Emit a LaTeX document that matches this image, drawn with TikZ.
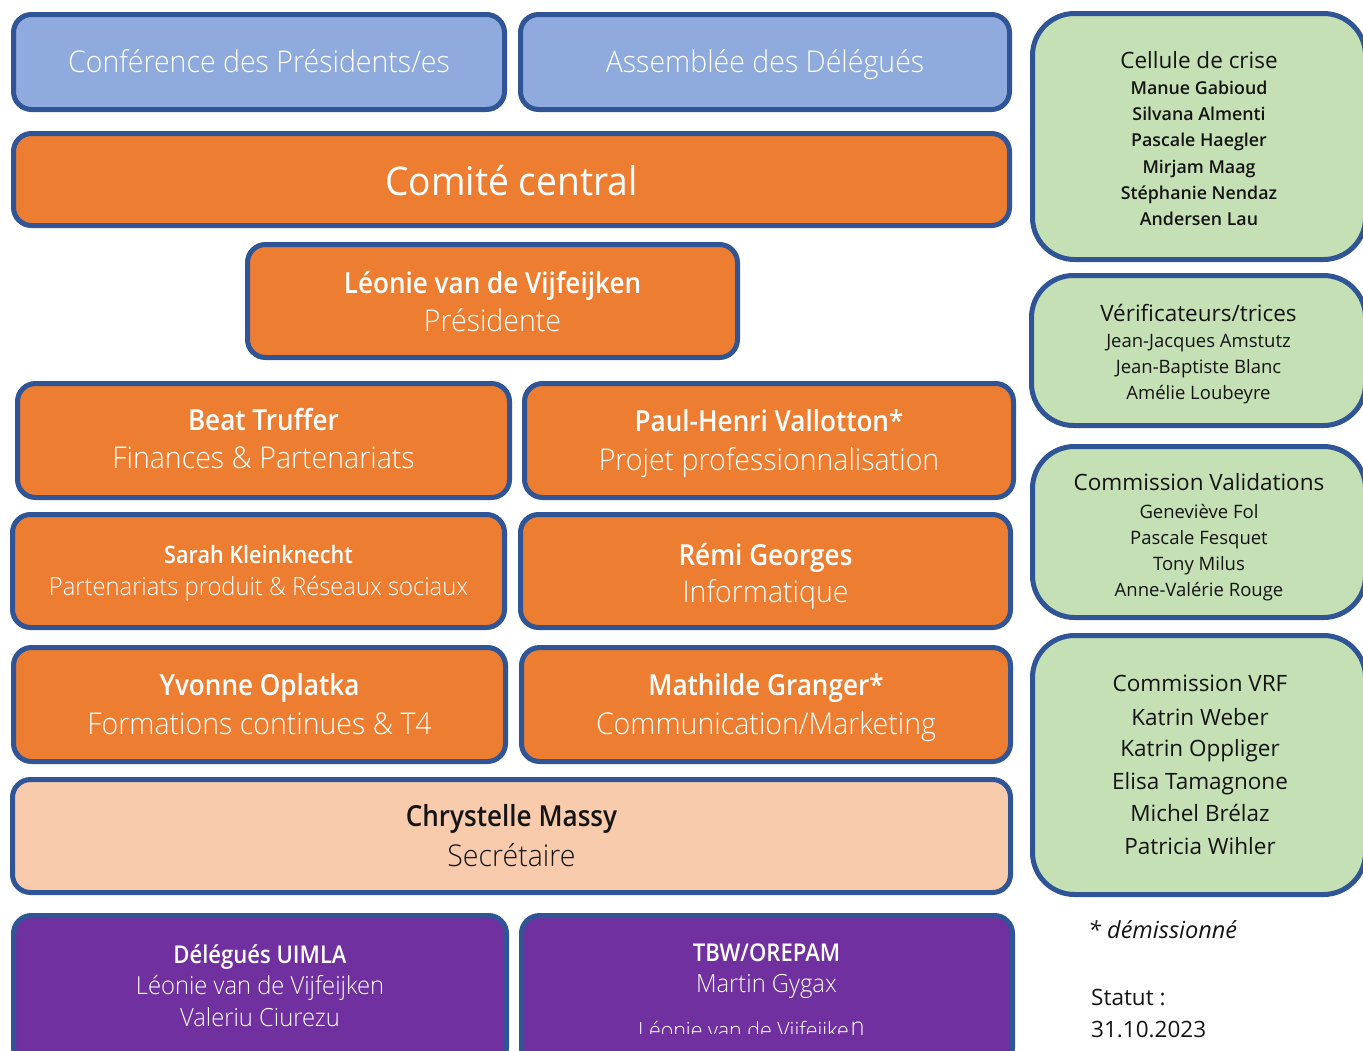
\documentclass[tikz,border=0pt]{standalone}
\usepackage{fontspec}
\IfFontExistsTF{Open Sans Light}
  {\newfontfamily\ltfont{Open Sans Light}[FakeStretch=0.95]}
  {\newfontfamily\ltfont{Open Sans}[FakeStretch=0.95]}
\IfFontExistsTF{Open Sans SemiBold}
  {\newfontfamily\sbfont{Open Sans SemiBold}[FakeStretch=0.9]\newfontfamily\sbwfont{Open Sans SemiBold}}
  {\IfFontExistsTF{Open Sans Semibold}
    {\newfontfamily\sbfont{Open Sans Semibold}[FakeStretch=0.9]\newfontfamily\sbwfont{Open Sans Semibold}}
    {\newfontfamily\sbfont{Open Sans}[FakeStretch=0.9,FakeBold=1]\newfontfamily\sbwfont{Open Sans}[FakeBold=1]}}
\newfontfamily\rgsfont{Open Sans}[FakeStretch=0.94]
\newfontfamily\rgfont{Open Sans}
\newcommand\fLT[1]{\ltfont\fontsize{#1}{#1}\selectfont}
\newcommand\fSB[1]{\sbfont\fontsize{#1}{#1}\selectfont}
\newcommand\fSBW[1]{\sbwfont\fontsize{#1}{#1}\selectfont}
\newcommand\fRGS[1]{\rgsfont\fontsize{#1}{#1}\selectfont}
\newcommand\fRG[1]{\rgfont\fontsize{#1}{#1}\selectfont}
\definecolor{bord}{HTML}{2F5597}
\definecolor{blueF}{HTML}{8FAADC}
\definecolor{orangeF}{HTML}{ED7D31}
\definecolor{peachF}{HTML}{F8CBAD}
\definecolor{purpleF}{HTML}{7030A0}
\definecolor{greenF}{HTML}{C5E0B4}
\definecolor{txtK}{HTML}{141414}
\begin{document}
\begin{tikzpicture}[x=1pt,y=-1pt,
  box/.style={draw=bord, line width=5pt, rounded corners=18pt, inner sep=0pt},
  gbox/.style={draw=bord, line width=5pt, rounded corners=42pt, inner sep=0pt, fill=greenF},
  tl/.style={anchor=base, inner sep=0pt, text=white},
  tk/.style={anchor=base, inner sep=0pt, text=txtK}]
\useasboundingbox (0,0) rectangle (1363,1050);
\clip (0,0) rectangle (1363,1050);
% top blue boxes
\node[box, fill=blueF, minimum width=491pt, minimum height=95pt] (conf) at (259,62) {};
\node[box, fill=blueF, minimum width=489pt, minimum height=95pt] (ass) at (765,62) {};
\node[tl, font=\fLT{30}] (confT) at (259,72) {Conférence des Présidents/es};
\node[tl, font=\fLT{30}] (assT) at (765,72) {Assemblée des Délégués};
% comite
\node[box, fill=orangeF, minimum width=996pt, minimum height=92pt] (cc) at (511.5,179.5) {};
\node[tl, font=\fRGS{39.5}] (ccT) at (511.5,195) {Comité central};
% presidente
\node[box, fill=orangeF, minimum width=490pt, minimum height=113pt] (pres) at (492.5,301) {};
\node[tl, font=\fSB{29}] (presA) at (492.5,293.3) {Léonie van de Vijfeijken};
\node[tl, font=\fLT{30}] (presB) at (492.5,331.7) {Présidente};
% row 1
\node[box, fill=orangeF, minimum width=492pt, minimum height=114pt] (beat) at (263.5,440.5) {};
\node[tl, font=\fSB{29}] (beatA) at (263.5,430) {Beat Truffer};
\node[tl, font=\fLT{30}] (beatB) at (263.5,468.3) {Finances \& Partenariats};
\node[box, fill=orangeF, minimum width=489pt, minimum height=114pt] (paul) at (769,440.5) {};
\node[tl, font=\fSB{29}] (paulA) at (769,431.7) {Paul-Henri Vallotton*};
\node[tl, font=\fLT{30}] (paulB) at (769,470) {Projet professionnalisation};
% row 2
\node[box, fill=orangeF, minimum width=492pt, minimum height=113pt] (sarah) at (258.5,571) {};
\node[tl, font=\fSB{24}] (sarahA) at (258.5,563.3) {Sarah Kleinknecht};
\node[tl, font=\fLT{25}] (sarahB) at (258.5,595.7) {Partenariats produit \& Réseaux sociaux};
\node[box, fill=orangeF, minimum width=490pt, minimum height=113pt] (remi) at (765.5,571) {};
\node[tl, font=\fSB{29}] (remiA) at (765.5,565) {Rémi Georges};
\node[tl, font=\fLT{30}] (remiB) at (765.5,602.7) {Informatique};
% row 3
\node[box, fill=orangeF, minimum width=492pt, minimum height=114pt] (yvo) at (259.5,704.5) {};
\node[tl, font=\fSB{29}] (yvoA) at (259.5,695) {Yvonne Oplatka};
\node[tl, font=\fLT{30}] (yvoB) at (259.5,734.3) {Formations continues \& T4};
\node[box, fill=orangeF, minimum width=489pt, minimum height=114pt] (math) at (766,704.5) {};
\node[tl, font=\fSB{29}] (mathA) at (766,695) {Mathilde Granger*};
\node[tl, font=\fLT{30}] (mathB) at (766,734.3) {Communication/Marketing};
% secretaire
\node[box, fill=peachF, minimum width=998pt, minimum height=113pt] (sec) at (511.5,836) {};
\node[tk, font=\fSB{29}] (secA) at (511.5,826.7) {Chrystelle Massy};
\node[tk, font=\fLT{30}] (secB) at (511.5,866) {Secrétaire};
% purple
\node[box, fill=purpleF, minimum width=493pt, minimum height=150pt] (uimla) at (260,990.5) {};
\node[tl, font=\fSB{24.5}] (uimlaA) at (260,963.3) {Délégués UIMLA};
\node[tl, font=\fLT{25}] (uimlaB) at (260,994.3) {Léonie van de Vijfeijken};
\node[tl, font=\fLT{25}] (uimlaC) at (260,1026.7) {Valeriu Ciurezu};
\node[box, fill=purpleF, minimum width=491pt, minimum height=150pt] (tbw) at (767,990.5) {};
\node[tl, font=\fSB{24.5}] (tbwA) at (766.5,961.7) {TBW/OREPAM};
\node[tl, font=\fLT{25}] (tbwB) at (766.5,992.7) {Martin Gygax};
\begin{scope}
\clip (600,1000) rectangle (849.5,1033.5);
\node[tl, anchor=base east, font=\fLT{22.5}] (tbwC) at (849,1038) {Léonie van de Vijfeijke};
\end{scope}
\node[tl, anchor=base west, font=\fLT{25}] (tbwN) at (850.5,1035) {n};
% green boxes
\node[gbox, minimum width=333pt, minimum height=246pt] (cel) at (1199,136.5) {};
\node[tk, font=\fRG{22.5}] (celT) at (1199,68.3) {Cellule de crise};
\node[tk, font=\fSBW{17.8}] (cel1) at (1199,94.5) {Manue Gabioud};
\node[tk, font=\fSBW{17.8}] (cel2) at (1199,120.7) {Silvana Almenti};
\node[tk, font=\fSBW{17.8}] (cel3) at (1199,146.9) {Pascale Haegler};
\node[tk, font=\fSBW{17.8}] (cel4) at (1199,173.1) {Mirjam Maag};
\node[tk, font=\fSBW{17.8}] (cel5) at (1199,199.3) {Stéphanie Nendaz};
\node[tk, font=\fSBW{17.8}] (cel6) at (1199,225.5) {Andersen Lau};
\node[gbox, minimum width=334pt, minimum height=150pt] (ver) at (1198.5,350.5) {};
\node[tk, font=\fRG{22.5}] (verT) at (1198.5,321.7) {Vérificateurs/trices};
\node[tk, font=\fRG{18.5}] (ver1) at (1198.5,347.3) {Jean-Jacques Amstutz};
\node[tk, font=\fRG{18.5}] (ver2) at (1198.5,373.3) {Jean-Baptiste Blanc};
\node[tk, font=\fRG{18.5}] (ver3) at (1198.5,399.3) {Amélie Loubeyre};
\node[gbox, minimum width=333pt, minimum height=171pt] (val) at (1199,532) {};
\node[tk, font=\fRG{22.5}] (valT) at (1199,490.7) {Commission Validations};
\node[tk, font=\fRG{18.5}] (val1) at (1199,518.3) {Geneviève Fol};
\node[tk, font=\fRG{18.5}] (val2) at (1199,544) {Pascale Fesquet};
\node[tk, font=\fRG{18.5}] (val3) at (1199,570) {Tony Milus};
\node[tk, font=\fRG{18.5}] (val4) at (1199,596) {Anne-Valérie Rouge};
\node[gbox, minimum width=333pt, minimum height=259pt] (vrf) at (1199,765) {};
\node[tk, font=\fRG{22.5}] (vrfT) at (1200,691.7) {Commission VRF};
\node[tk, font=\fRG{22.5}] (vrf1) at (1200,725) {Katrin Weber};
\node[tk, font=\fRG{22.5}] (vrf2) at (1200,756.7) {Katrin Oppliger};
\node[tk, font=\fRG{22.5}] (vrf3) at (1200,789.3) {Elisa Tamagnone};
\node[tk, font=\fRG{22.5}] (vrf4) at (1200,821.7) {Michel Brélaz};
\node[tk, font=\fRG{22.5}] (vrf5) at (1200,854) {Patricia Wihler};
% notes
\node[tk, anchor=base west, font=\fRG{23.5}\itshape] (dem) at (1088,938.3) {* démissionné};
\node[tk, anchor=base west, font=\fRG{22.5}] (stat) at (1091,1005) {Statut :};
\node[tk, anchor=base west, font=\fRG{22.5}] (date) at (1091,1037.3) {31.10.2023};
\end{tikzpicture}
\end{document}
